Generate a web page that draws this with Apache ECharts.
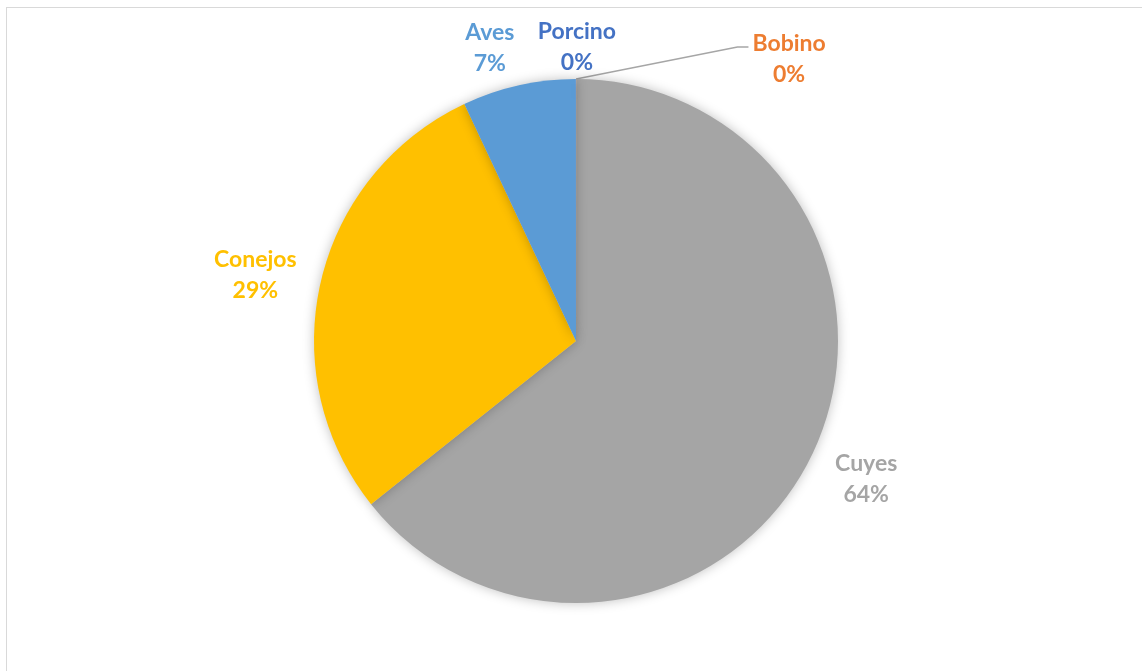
<!DOCTYPE html>
<html>
<head>
<meta charset="utf-8">
<script src="https://cdn.jsdelivr.net/npm/echarts@6/dist/echarts.min.js"></script>
<style>
  html, body { margin: 0; padding: 0; background: #fff; }
  #frame { position: absolute; left: 6px; top: 7px; width: 1150px; height: 680px; border: 1px solid #d9d9d9; box-sizing: border-box; }
  #chart { position: absolute; left: 0; top: 0; width: 1142px; height: 671px; }
</style>
</head>
<body>
<div id="frame"></div>
<div id="chart"></div>
<script>
// categories and shares (percent), clockwise from 12 o'clock
var categories = ['Bobino', 'Cuyes', 'Conejos', 'Aves', 'Porcino'];
var values = [0.01, 64.3, 28.7, 7.0, 0.01];
var colors = ['#ED7D31', '#A5A5A5', '#FFC000', '#5B9BD5', '#4472C4'];
// label nudges after the default outside placement
var labelDx = [196, 21, -36, 104, 18];
var labelDy = [-2, 16, -2, -77, -14];

var chartDom = document.getElementById('chart');
var myChart = echarts.init(chartDom);
var option;

var data = categories.map(function (c, i) {
    return {
        name: c,
        value: values[i],
        itemStyle: { color: colors[i] },
        label: { color: colors[i] },
        labelLine: { show: c === 'Bobino' }
    };
});

option = {
    series: [
        {
            type: 'pie',
            center: [576, 341],
            radius: 262,
            startAngle: 90,
            clockwise: true,
            percentPrecision: 0,
            avoidLabelOverlap: true,
            data: data,
            itemStyle: {
                shadowBlur: 12,
                shadowColor: 'rgba(0,0,0,0.25)'
            },
            label: {
                position: 'outside',
                formatter: '{b}\n{d}%',
                fontFamily: 'Lato',
                fontWeight: 'bold',
                fontSize: 23,
                lineHeight: 31
            },
            labelLine: {
                length: 18,
                length2: 12,
                lineStyle: { color: '#a6a6a6', width: 1.5 }
            },
            labelLayout: function (params) {
                var i = params.dataIndex;
                var out = {
                    align: 'center',
                    dx: labelDx[i],
                    dy: labelDy[i]
                };
                var pts = params.labelLinePoints;
                if (pts && categories[i] === 'Bobino') {
                    // leader line: from the rim to the left side of the moved label
                    var r = params.labelRect;
                    var ex = r.x + labelDx[i] - r.width / 2 - 4;
                    var ey = r.y + labelDy[i] + 19;
                    out.labelLinePoints = [pts[0], [ex - 11, ey], [ex, ey]];
                }
                return out;
            },
            emphasis: { disabled: true }
        }
    ]
};

option && myChart.setOption(option);
</script>
</body>
</html>
